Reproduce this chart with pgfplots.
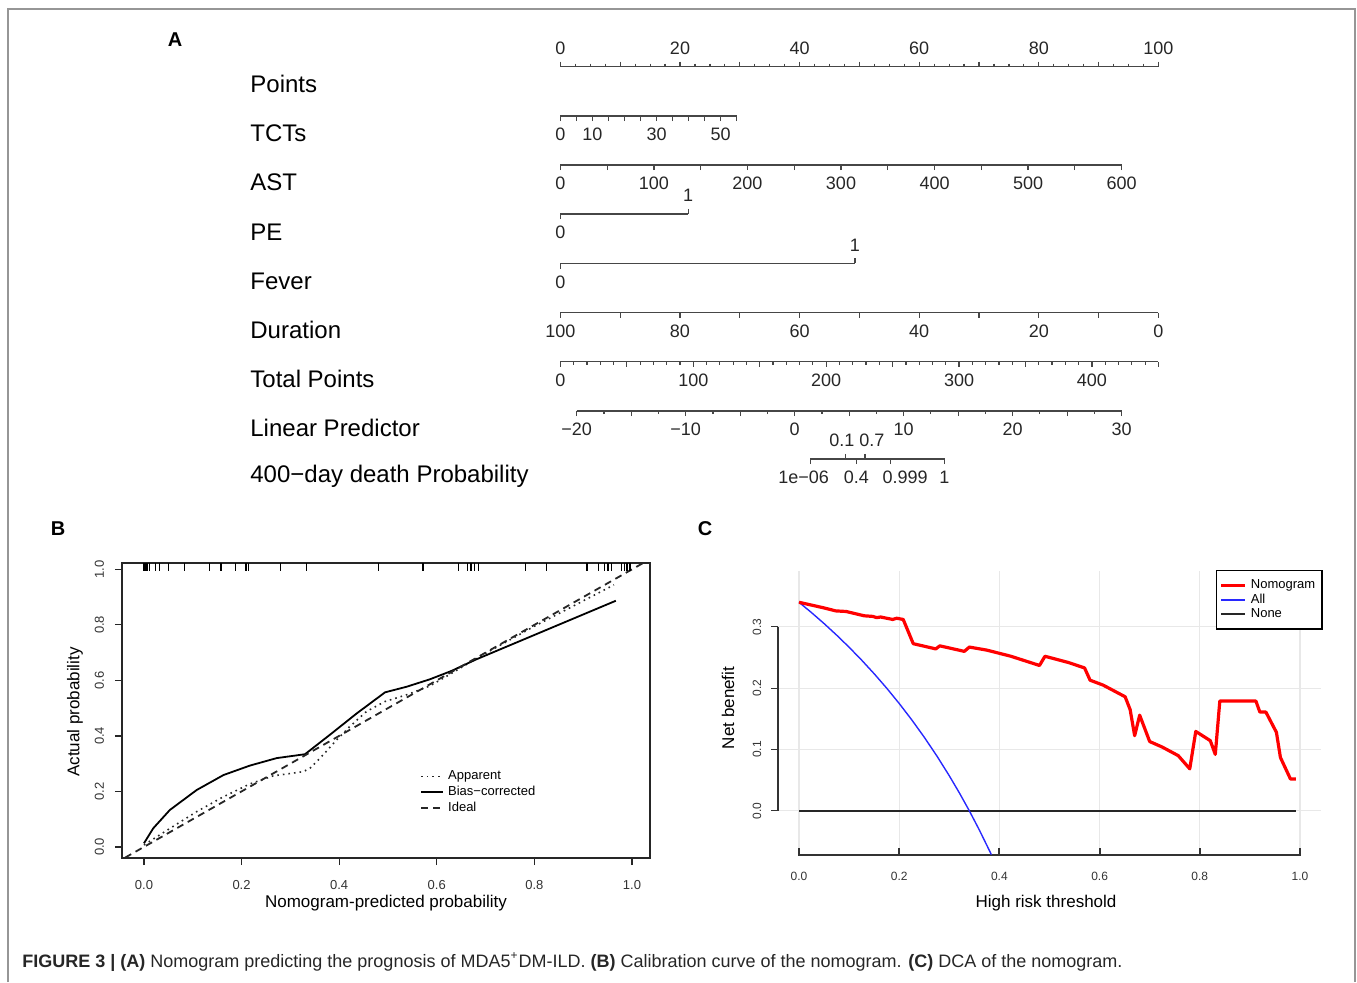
\documentclass[border=0pt]{standalone}
\usepackage{pgfplots}
\pgfplotsset{compat=1.18}
\usepackage{fontspec}
\setmainfont{Liberation Sans}
\setsansfont{Liberation Sans}

\definecolor{framegray}{RGB}{150,150,150}
\definecolor{gridgray}{RGB}{232,232,232}
\definecolor{nomored}{RGB}{255,0,0}
\definecolor{allblue}{RGB}{40,40,255}
\definecolor{scalegray}{RGB}{70,70,70}

\newcommand{\fsz}[1]{\fontsize{#1}{#1}\selectfont}

% one nomogram scale = one flat axis
\pgfplotsset{
  nomo/.style={scale only axis, height=1pt, ymin=0, ymax=1,
    enlargelimits=false, axis y line=none, axis x line*=bottom,
    tick align=outside, axis line style={-, scalegray, line width=0.6pt},
    tick style={scalegray, line width=0.6pt},
    major tick length=2.6pt, minor tick length=1.5pt,
    xticklabel style={font=\fsz{9}, text=black!85},
    anchor=south west},
  nomotop/.style={nomo, axis x line*=top, anchor=north west},
}

\begin{document}
\begin{tikzpicture}
% positions below are in pt: 1 reference pixel = 0.5pt, y downwards negative
\begin{scope}[x=0.5pt, y=-0.5pt]
\useasboundingbox (0,0) rectangle (1357,982);
\draw[framegray, line width=1pt] (8,982) -- (8,9) -- (1355,9) -- (1355,982);
\node[font=\bfseries\fsz{10}] at (175,40) {A};
\node[font=\bfseries\fsz{10}] at (58,529) {B};
\node[font=\bfseries\fsz{10}] at (705,529) {C};
\begin{scope}[every node/.style={anchor=west, font=\fsz{12}, inner sep=0pt}]
\node at (250,84) {Points};
\node at (250,133) {TCTs};
\node at (250,182) {AST};
\node at (250,232) {PE};
\node at (250,281) {Fever};
\node at (250,330) {Duration};
\node at (250,379) {Total Points};
\node at (250,428) {Linear Predictor};
\node at (250,476) {400−day death Probability};
\end{scope}
\node[anchor=west, font=\fsz{9}, text=black!85, inner sep=0pt] at (22,962)
  {\textbf{FIGURE 3 | (A)} Nomogram predicting the prognosis of MDA5\textsuperscript{+}DM-ILD.
   \textbf{(B)} Calibration curve of the nomogram. \textbf{(C)} DCA of the nomogram.};
\end{scope}

% ---------------- A: nomogram ----------------
\begin{axis}[nomotop, at={(280.2pt,-33.35pt)}, width=299pt, xmin=0, xmax=100,
  xtick={0,10,...,100}, xticklabels={0,,20,,40,,60,,80,,100}, minor x tick num=3]
\end{axis}
\begin{axis}[nomo, at={(280.2pt,-58pt)}, width=88.15pt, xmin=0, xmax=55,
  xtick={0,5,...,55}, xticklabels={0,,10,,,,30,,,,50,}]
\end{axis}
\begin{axis}[nomo, at={(280.2pt,-82.5pt)}, width=280.6pt, xmin=0, xmax=600,
  xtick={0,50,...,600}, xticklabels={0,,100,,200,,300,,400,,500,,600}]
\end{axis}
% PE
\begin{axis}[nomo, at={(280.2pt,-107pt)}, width=63.9pt, xmin=0, xmax=1,
  xtick={0}, xticklabels={0}]
\end{axis}
\begin{axis}[nomotop, at={(280.2pt,-107pt)}, width=63.9pt, xmin=0, xmax=1,
  xtick={1}, xticklabels={1}]
\end{axis}
% Fever
\begin{axis}[nomo, at={(280.2pt,-131.65pt)}, width=147.3pt, xmin=0, xmax=1,
  xtick={0}, xticklabels={0}]
\end{axis}
\begin{axis}[nomotop, at={(280.2pt,-131.65pt)}, width=147.3pt, xmin=0, xmax=1,
  xtick={1}, xticklabels={1}]
\end{axis}
% Duration
\begin{axis}[nomo, at={(280.2pt,-156.35pt)}, width=299pt, xmin=0, xmax=100, x dir=reverse,
  xtick={0,10,...,100}, xticklabels={0,,20,,40,,60,,80,,100}]
\end{axis}
% Total points
\begin{axis}[nomo, at={(280.2pt,-180.85pt)}, width=299pt, xmin=0, xmax=450,
  xtick={0,50,...,450}, xticklabels={0,,100,,200,,300,,400,}, minor x tick num=4]
\end{axis}
% Linear predictor
\begin{axis}[nomo, at={(288.35pt,-205.5pt)}, width=272.45pt, xmin=-20, xmax=30,
  xtick={-20,-15,...,30}, xticklabels={−20,,−10,,0,,10,,20,,30}, minor x tick num=1]
\end{axis}
% Probability (positions in linear predictor units)
\begin{axis}[nomo, at={(405.1pt,-229.5pt)}, width=67.15pt, xmin=1.43, xmax=13.75,
  xtick={1.43,5.66,8.80,13.75},
  xticklabels={1e−06\hspace*{6.6pt},0.4,\hspace*{14.6pt}0.999,1}]
\end{axis}
\begin{axis}[nomotop, at={(405.1pt,-229.5pt)}, width=67.15pt, xmin=1.43, xmax=13.75,
  xtick={4.68,6.45}, xticklabels={0.1\hspace*{3.7pt},\hspace*{7pt}0.7}]
\end{axis}

% ---------------- B: calibration ----------------
\begin{axis}[at={(61pt,-429pt)}, anchor=south west, scale only axis,
  width=264pt, height=147.5pt,
  xmin=-0.045, xmax=1.037, ymin=-0.04, ymax=1.023,
  axis line style={black!85, line width=0.75pt},
  tick pos=left, tick align=outside, major tick length=3.5pt,
  tick style={black!85, line width=0.6pt},
  xtick={0,0.2,0.4,0.6,0.8,1}, xticklabels={0.0,0.2,0.4,0.6,0.8,1.0},
  ytick={0,0.2,0.4,0.6,0.8,1}, yticklabels={0.0,0.2,0.4,0.6,0.8,1.0},
  ticklabel style={font=\fsz{6.5}, text=black!80},
  xticklabel style={yshift=-4pt},
  yticklabel style={rotate=90, anchor=south, yshift=2pt},
  xlabel={Nomogram-predicted probability}, ylabel={Actual probability},
  label style={font=\fsz{8.5}},
  xlabel style={at={(axis description cs:0.5,-0.1525)}, anchor=center},
  ylabel style={at={(axis description cs:-0.089,0.495)}, anchor=center},
  legend style={at={(axis description cs:0.553,0.325)}, anchor=north west,
    draw=none, fill=none, font=\fsz{6.5}, row sep=-2.3pt},
  legend cell align=left,
  legend image code/.code={\draw[#1] (0pt,0pt) -- (11pt,0pt);},
]
% rug of predicted probabilities
\addplot[only marks, mark=|, mark size=2pt, mark options={line width=0.6pt, black}, forget plot]
  coordinates {(0.000,1.0086) (0.002,1.0086) (0.004,1.0086) (0.006,1.0086) (0.008,1.0086)
  (0.012,1.0086) (0.023,1.0086) (0.032,1.0086) (0.050,1.0086) (0.083,1.0086)
  (0.135,1.0086) (0.158,1.0086) (0.188,1.0086) (0.209,1.0086) (0.215,1.0086)
  (0.279,1.0086) (0.333,1.0086) (0.481,1.0086) (0.572,1.0086) (0.645,1.0086)
  (0.663,1.0086) (0.670,1.0086) (0.677,1.0086) (0.686,1.0086) (0.782,1.0086)
  (0.825,1.0086) (0.908,1.0086) (0.932,1.0086) (0.944,1.0086) (0.951,1.0086)
  (0.958,1.0086) (0.979,1.0086) (0.984,1.0086) (0.990,1.0086) (0.996,1.0086)};
\addplot[black!85, line width=0.8pt, dotted] coordinates {
  (0,0.007) (0.05,0.063) (0.108,0.127) (0.16,0.178) (0.217,0.227) (0.265,0.256)
  (0.326,0.271) (0.34,0.283) (0.367,0.331) (0.395,0.386) (0.422,0.434) (0.456,0.488)
  (0.494,0.524) (0.538,0.548) (0.586,0.58) (0.63,0.625) (0.68,0.678) (0.8,0.795) (0.963,0.944)};
\addlegendentry{Apparent}
\addplot[black, line width=0.9pt] coordinates {
  (0,0.013) (0.019,0.067) (0.053,0.133) (0.108,0.205) (0.163,0.259) (0.217,0.293)
  (0.272,0.320) (0.330,0.334) (0.381,0.404) (0.436,0.481) (0.494,0.557) (0.538,0.577)
  (0.586,0.604) (0.63,0.634) (0.68,0.675) (0.967,0.887)};
\addlegendentry{Bias−corrected}
\addplot[black!85, line width=0.9pt, dash pattern=on 3.5pt off 2.5pt] coordinates {(-0.06,-0.06) (1.06,1.06)};
\addlegendentry{Ideal}
\end{axis}

% ---------------- C: decision curve ----------------
\begin{axis}[at={(389pt,-427.5pt)}, anchor=south west, scale only axis,
  width=271.5pt, height=142pt,
  xmin=-0.042, xmax=1.042, ymin=-0.072, ymax=0.391, clip=false,
  axis line style={draw=none},
  tick pos=left, tick align=outside, major tick length=3.5pt,
  tick style={black!80, line width=0.6pt},
  major x tick style={draw=none},
  grid=major, grid style={gridgray, line width=0.6pt},
  xtick={0,0.2,0.4,0.6,0.8,1}, xticklabels={0.0,0.2,0.4,0.6,0.8,1.0},
  ytick={0,0.1,0.2,0.3}, yticklabels={0.0,0.1,0.2,0.3},
  ticklabel style={font=\fsz{6}, text=black!80},
  xticklabel style={yshift=-1.5pt},
  yticklabel style={rotate=90, anchor=south, yshift=1.4pt},
  xlabel={High risk threshold}, ylabel={Net benefit},
  label style={font=\fsz{8.5}},
  xlabel style={at={(axis description cs:0.4936,-0.169)}, anchor=center},
  ylabel style={at={(axis description cs:-0.092,0.518)}, anchor=center},
  legend style={at={(axis description cs:0.8066,1.0035)}, anchor=north west,
    draw=black, line width=0.7pt, fill=white, font=\fsz{6.5},
    row sep=-3pt, inner xsep=1.5pt, inner ysep=2.5pt},
  legend cell align=left, reverse legend,
  legend image code/.code={\draw[#1] (0pt,0pt) -- (12pt,0pt);},
]
% axis lines as drawn by R
\addplot[black!80, line width=1pt, forget plot] coordinates {
  (0,-0.0606) (0,-0.072) (0.2,-0.072) (0.2,-0.0606) (0.2,-0.072) (0.4,-0.072)
  (0.4,-0.0606) (0.4,-0.072) (0.6,-0.072) (0.6,-0.0606) (0.6,-0.072) (0.8,-0.072)
  (0.8,-0.0606) (0.8,-0.072) (1,-0.072) (1,-0.0606)};
\addplot[black!80, line width=0.7pt, forget plot] coordinates {(-0.042,0) (-0.042,0.3)};
\addplot[black!85, line width=0.8pt] coordinates {(0,0) (0.992,0)};
\addlegendentry{None}
\addplot[allblue, line width=0.7pt] coordinates {
  (0,0.340) (0.025,0.3231) (0.05,0.3053) (0.075,0.2865) (0.10,0.2667) (0.125,0.2457)
  (0.15,0.2235) (0.175,0.2000) (0.20,0.175) (0.225,0.1484) (0.25,0.120) (0.275,0.0897)
  (0.30,0.0571) (0.32,0.0294) (0.34,0.0) (0.36,-0.0313) (0.384,-0.0714)};
\addlegendentry{All}
\addplot[nomored, line width=1.6pt, line join=round] coordinates {
  (0,0.340) (0.049,0.331) (0.073,0.326) (0.094,0.325) (0.130,0.318) (0.147,0.317)
  (0.155,0.315) (0.163,0.316) (0.187,0.312) (0.195,0.314) (0.208,0.312) (0.228,0.2725)
  (0.252,0.268) (0.273,0.264) (0.281,0.269) (0.330,0.260) (0.340,0.267) (0.375,0.262)
  (0.423,0.252) (0.480,0.237) (0.491,0.252) (0.537,0.242) (0.570,0.233) (0.581,0.213)
  (0.607,0.205) (0.651,0.186) (0.661,0.165) (0.670,0.1225) (0.680,0.156) (0.700,0.113)
  (0.725,0.104) (0.757,0.090) (0.780,0.0685) (0.792,0.1295) (0.821,0.1144) (0.831,0.092)
  (0.840,0.179) (0.912,0.179) (0.920,0.161) (0.932,0.161) (0.953,0.128) (0.961,0.087)
  (0.981,0.052) (0.992,0.052)};
\addlegendentry{Nomogram}
\end{axis}
\end{tikzpicture}
\end{document}
